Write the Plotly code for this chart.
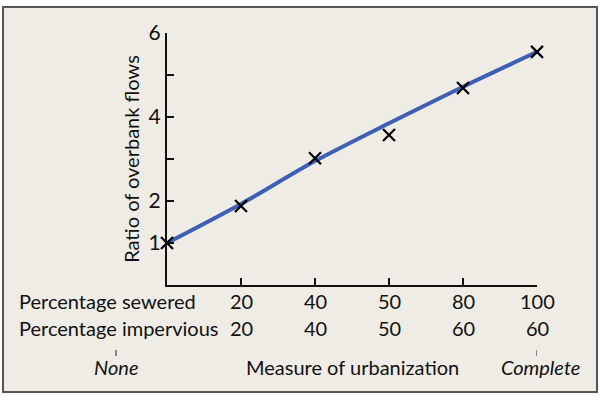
import plotly.graph_objects as go

# ---- data ----
positions = [0, 1, 2, 3, 4, 5]
observed_ratio = [1.0, 1.88, 3.02, 3.57, 4.69, 5.55]
fitted_ratio = [1.0, 1.93, 2.95, 3.85, 4.72, 5.55]
pct_sewered = ["20", "40", "50", "80", "100"]
pct_impervious = ["20", "40", "50", "60", "60"]
y_tickvals = [1, 2, 3, 4, 5, 6]
y_ticktext = ["1", "2", "", "4", "", "6"]

W, H = 600, 400
L, R, T, B = 167, 63, 33, 115
pw, ph = W - L - R, H - T - B

def px_x(p):
    return (p - L) / pw

def px_y(p):
    return (H - B - p) / ph

FONT = "Lato"
FS = 20
fig = go.Figure()

fig.add_trace(go.Scatter(
    x=positions, y=fitted_ratio, mode="lines",
    line=dict(color="#3D60B5", width=4, shape="spline", smoothing=0.8),
    cliponaxis=False, hoverinfo="skip"))
fig.add_trace(go.Scatter(
    x=positions, y=observed_ratio, mode="markers",
    marker=dict(symbol="x-thin", size=12, line=dict(color="black", width=2.2)),
    cliponaxis=False))

shapes = [
    dict(type="rect", xref="paper", yref="paper",
         x0=px_x(3), x1=px_x(597), y0=px_y(392), y1=px_y(7),
         fillcolor="#EFECE6", line=dict(color="#555555", width=2), layer="below"),
    dict(type="line", xref="paper", yref="paper",
         x0=px_x(116), x1=px_x(116), y0=px_y(350), y1=px_y(356),
         line=dict(color="#222", width=1)),
    dict(type="line", xref="x", yref="paper",
         x0=5, x1=5, y0=px_y(350), y1=px_y(356),
         line=dict(color="#222", width=1)),
]

def tfont():
    return dict(size=FS, color="#111", family=FONT)

ann = []
for i, (s, m) in enumerate(zip(pct_sewered, pct_impervious)):
    ann.append(dict(x=positions[i + 1], y=0, xref="x", yref="paper", text=s,
                    showarrow=False, xanchor="center", yshift=-16, yanchor="middle", font=tfont()))
    ann.append(dict(x=positions[i + 1], y=0, xref="x", yref="paper", text=m,
                    showarrow=False, xanchor="center", yshift=-43, yanchor="middle", font=tfont()))
ann.append(dict(x=px_x(17), y=0, xref="paper", yref="paper", text="Percentage sewered",
                showarrow=False, xanchor="left", yshift=-16, yanchor="middle", font=tfont()))
ann.append(dict(x=px_x(17), y=0, xref="paper", yref="paper", text="Percentage impervious",
                showarrow=False, xanchor="left", yshift=-43, yanchor="middle", font=tfont()))
ann.append(dict(x=px_x(116), y=0, xref="paper", yref="paper", text="<i>None</i>",
                showarrow=False, xanchor="center", yshift=-82, yanchor="middle", font=tfont()))
ann.append(dict(x=px_x(352), y=0, xref="paper", yref="paper", text="Measure of urbanization",
                showarrow=False, xanchor="center", yshift=-82, yanchor="middle", font=tfont()))
ann.append(dict(x=5, y=0, xref="x", yref="paper", text="<i>Complete</i>",
                showarrow=False, xanchor="center", xshift=3, yshift=-82, yanchor="middle",
                font=tfont()))

fig.update_layout(
    width=W, height=H,
    margin=dict(l=L, r=R, t=T, b=B),
    paper_bgcolor="white", plot_bgcolor="rgba(0,0,0,0)",
    showlegend=False,
    shapes=shapes, annotations=ann,
    xaxis=dict(range=[0, 5], tickvals=[1, 2, 3, 4, 5], ticks="inside", ticklen=7,
               tickcolor="#111", tickwidth=1.5, showticklabels=False,
               showline=True, linecolor="#111", linewidth=2,
               showgrid=False, zeroline=False, automargin=False),
    yaxis=dict(range=[0, 6], tickvals=y_tickvals, ticktext=y_ticktext,
               ticks="inside", ticklen=7, tickcolor="#111", tickwidth=1.5,
               showline=True, linecolor="#111", linewidth=2,
               showgrid=False, zeroline=False, automargin=False,
               tickfont=dict(size=21, color="#111", family=FONT),
               title=dict(text="Ratio of overbank flows", standoff=4,
                          font=dict(size=FS, color="#111", family=FONT))),
)

fig.write_html("out.html", config={"displayModeBar": False},
               post_script="document.body.style.margin='0';document.body.style.padding='0';")
